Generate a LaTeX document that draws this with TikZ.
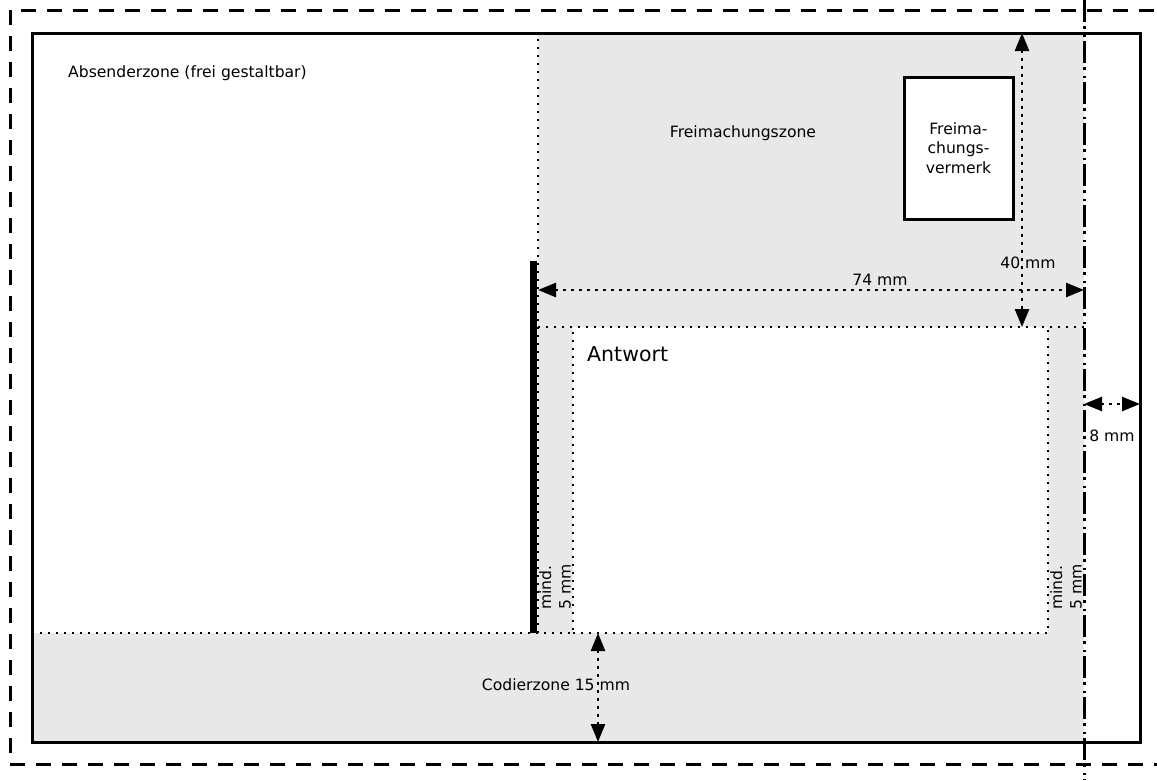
\documentclass[tikz,border=0pt]{standalone}
\usepackage{fontspec}
\setmainfont{DejaVu Sans}
\usetikzlibrary{arrows.meta}
\definecolor{zonegray}{HTML}{E8E8E8}
\tikzset{
  zoneline/.style={line width=2pt,dash pattern=on 2pt off 6pt},
  dimline/.style={{Triangle[length=18pt,width=14pt]}-{Triangle[length=18pt,width=14pt]},
    line width=2.6pt,dash pattern=on 2.6pt off 5.4pt},
  txt/.style={font=\fontsize{15.6}{19.5}\selectfont,inner sep=0pt},
}
\begin{document}
\begin{tikzpicture}[x=1pt,y=-1pt]
\def\xl{32}  \def\xr{1140} \def\yt{33}  \def\yb{742}
\def\xf{538} \def\xm{1084} \def\yf{327} \def\yc{633}
\def\xa{573} \def\xb{1048}
\useasboundingbox (0,0) rectangle (1157,780);
\clip (0,0) rectangle (1157,780);
% zones
\fill[color=zonegray] (\xf,\yt) -- (\xm,\yt) -- (\xm,\yb) -- (\xl,\yb) -- (\xl,\yc) -- (\xf,\yc) -- cycle;
\fill[color=white] (\xa,\yf) rectangle (\xb,\yc);
\draw[zoneline] (\xf,\yc) -- (\xf,\yt) -- (\xm,\yt);
\draw[zoneline] (\xf,\yf) -- (\xm,\yf);
\draw[zoneline] (\xl,\yc) -- (\xa,\yc) -- (\xa,\yf);
\draw[zoneline] (\xa,\yc) -- (\xb,\yc) -- (\xb,\yf);
% margins
\draw[line width=3pt,dash pattern=on 15pt off 11pt] (1180,10) -- (10,10) -- (10,764) -- (1180,764);
\draw[line width=3pt,dash pattern=on 22pt off 4pt on 2.5pt off 6pt on 2.5pt off 4pt] (\xm,0) -- (\xm,780);
\draw[line width=3pt] (\xl,\yt) rectangle (\xr,\yb);
\fill (529.5,261) rectangle (536.5,\yc);
% Freimachungsvermerk
\node[txt,draw,fill=white,line width=3pt,minimum width=109pt,minimum height=142pt,align=center]
  (vermerk) at (958.5,148) {Freima-\\chungs-\\vermerk};
% dimensions
\coordinate (m40a) at (1022,\yt);  \coordinate (m40b) at (1022,\yf);
\coordinate (m74a) at (\xf,290);   \coordinate (m74b) at (\xm,290);
\coordinate (m8a) at (\xm,404);    \coordinate (m8b) at (\xr,404);
\coordinate (m15a) at (598,\yc);   \coordinate (m15b) at (598,\yb);
\draw[dimline] (m40a) -- (m40b);
\draw[dimline] (m74a) -- (m74b);
\draw[dimline] (m8a) -- (m8b);
\draw[dimline] (m15a) -- (m15b);
% labels
\node[txt,anchor=west] (absender) at (68,73) {Absenderzone (frei gestaltbar)};
\node[txt] (freizone) at (743,133) {Freimachungszone};
\node[txt,font=\fontsize{20.5}{24}\selectfont,anchor=west] (antwort) at (587,354) {Antwort};
\node[txt] (l40) at (1028,263) {40 mm};
\node[txt] (l74) at (880,280) {74 mm};
\node[txt] (l8) at (1112,436) {8 mm};
\node[txt] (codier) at (556,685) {Codierzone 15 mm};
\foreach \x/\n in {555/mindl,1066/mindr}
  \node[txt,rotate=90,align=left,anchor=west] (\n) at (\x,610) {mind.\\5 mm};
\end{tikzpicture}
\end{document}
